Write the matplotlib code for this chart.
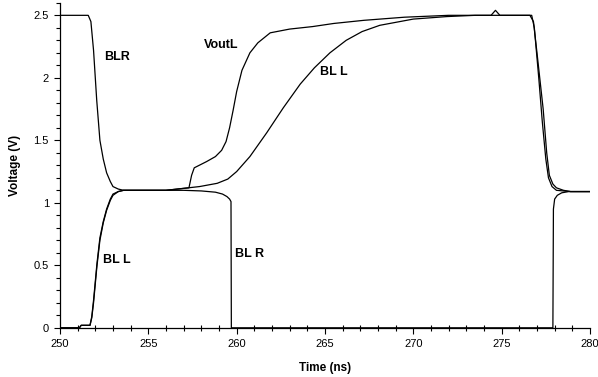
import matplotlib.pyplot as plt
from matplotlib.ticker import MultipleLocator

plt.rcParams['font.family'] = ['Liberation Sans', 'DejaVu Sans']

# BLR waveform
blr_t = [250, 251.6, 251.75, 251.9, 252.08, 252.26, 252.45, 252.64, 252.85, 253.0, 253.3, 253.6,
         255, 257, 258, 258.8, 259.2, 259.45, 259.6, 259.68, 259.7,
         277.9, 277.93, 278.0, 278.15, 278.4, 278.8, 280]
blr_v = [2.5, 2.5, 2.45, 2.22, 1.82, 1.5, 1.35, 1.24, 1.17, 1.13, 1.11, 1.10,
         1.10, 1.10, 1.095, 1.085, 1.07, 1.05, 1.03, 1.01, 0.0,
         0.0, 0.95, 1.03, 1.06, 1.08, 1.09, 1.09]

# BLL waveform
bll_t = [250, 251.1, 251.2, 251.7, 251.8, 251.9, 252.09, 252.26, 252.45, 252.64, 252.85, 253.0, 253.3, 253.6,
         256, 257.9, 258.9, 259.5, 260.0, 260.75, 261.7, 262.64, 263.6, 264.4, 265.28, 266.2, 267.1, 268.1, 270,
         271.9, 273.5, 276.6, 276.8, 277.0, 277.35, 277.55, 277.7, 277.9, 278.1, 278.5, 278.9, 280]
bll_v = [0, 0, 0.02, 0.02, 0.08, 0.2, 0.49, 0.70, 0.84, 0.94, 1.02, 1.06, 1.09, 1.10,
         1.10, 1.13, 1.156, 1.19, 1.25, 1.37, 1.56, 1.76, 1.95, 2.08, 2.2, 2.3, 2.37, 2.42, 2.47,
         2.49, 2.5, 2.5, 2.45, 2.2, 1.75, 1.4, 1.22, 1.15, 1.12, 1.10, 1.09, 1.09]

# VoutL waveform
vout_t = [250, 251.1, 251.2, 251.7, 251.8, 251.9, 252.09, 252.26, 252.45, 252.64, 252.85, 253.0, 253.3, 253.6,
          256, 257.3, 257.45, 257.6, 258.3, 258.8, 259.15, 259.4, 259.6, 259.8, 260.0, 260.3, 260.75,
          261.2, 261.9, 263.0, 264.3, 265.5, 267.2, 269.5, 272, 274.4, 274.65, 274.9, 276.7, 276.85, 277.1, 277.3,
          277.5, 277.65, 277.85, 278.1, 278.9, 280]
vout_v = [0, 0, 0.02, 0.02, 0.09, 0.22, 0.51, 0.72, 0.85, 0.95, 1.03, 1.07, 1.09, 1.10,
          1.10, 1.12, 1.22, 1.28, 1.33, 1.37, 1.42, 1.49, 1.6, 1.74, 1.89, 2.06, 2.2,
          2.28, 2.36, 2.39, 2.41, 2.435, 2.46, 2.485, 2.5, 2.5, 2.54, 2.5, 2.5, 2.4, 2.0, 1.65,
          1.35, 1.2, 1.13, 1.1, 1.09, 1.09]

labels = ['BLR', 'VoutL', 'BL L', 'BL L', 'BL R']
label_t = [253.2, 259.15, 265.5, 253.2, 260.75]
label_v = [2.17, 2.26, 2.05, 0.545, 0.59]

fig = plt.figure(figsize=(5.98, 3.77), dpi=100)
ax = fig.add_axes([0.1003, 0.1305, 0.8863, 0.862])

for t, v in [(blr_t, blr_v), (bll_t, bll_v), (vout_t, vout_v)]:
    ax.plot(t, v, color='black', linewidth=0.9)

for s, t, v in zip(labels, label_t, label_v):
    ax.text(t, v, s, fontsize=9, fontweight='bold', ha='center', va='center')

ax.set_xlim(250, 280)
ax.set_ylim(0, 2.6)
ax.xaxis.set_major_locator(MultipleLocator(5))
ax.xaxis.set_minor_locator(MultipleLocator(1))
ax.yaxis.set_minor_locator(MultipleLocator(0.1))
ax.set_yticks([0, 0.5, 1, 1.5, 2, 2.5])
ax.set_yticklabels(['0', '0.5', '1', '1.5', '2', '2.5'])
ax.tick_params(which='major', direction='out', length=4, width=0.8, labelsize=8, color='black', pad=4)
ax.tick_params(axis='y', which='minor', direction='out', length=3, width=0.8)
ax.tick_params(axis='x', which='minor', direction='inout', length=4, width=0.8)

for side in ['top', 'right']:
    ax.spines[side].set_visible(False)
for side in ['left', 'bottom']:
    ax.spines[side].set_linewidth(0.9)

ax.set_xlabel('Time (ns)', fontsize=8.5, fontweight='bold')
ax.set_ylabel('Voltage (V)', fontsize=8.5, fontweight='bold')
ax.xaxis.set_label_coords(0.5, -0.105)
ax.yaxis.set_label_coords(-0.074, 0.5)

fig.savefig('out.png', dpi=100)
